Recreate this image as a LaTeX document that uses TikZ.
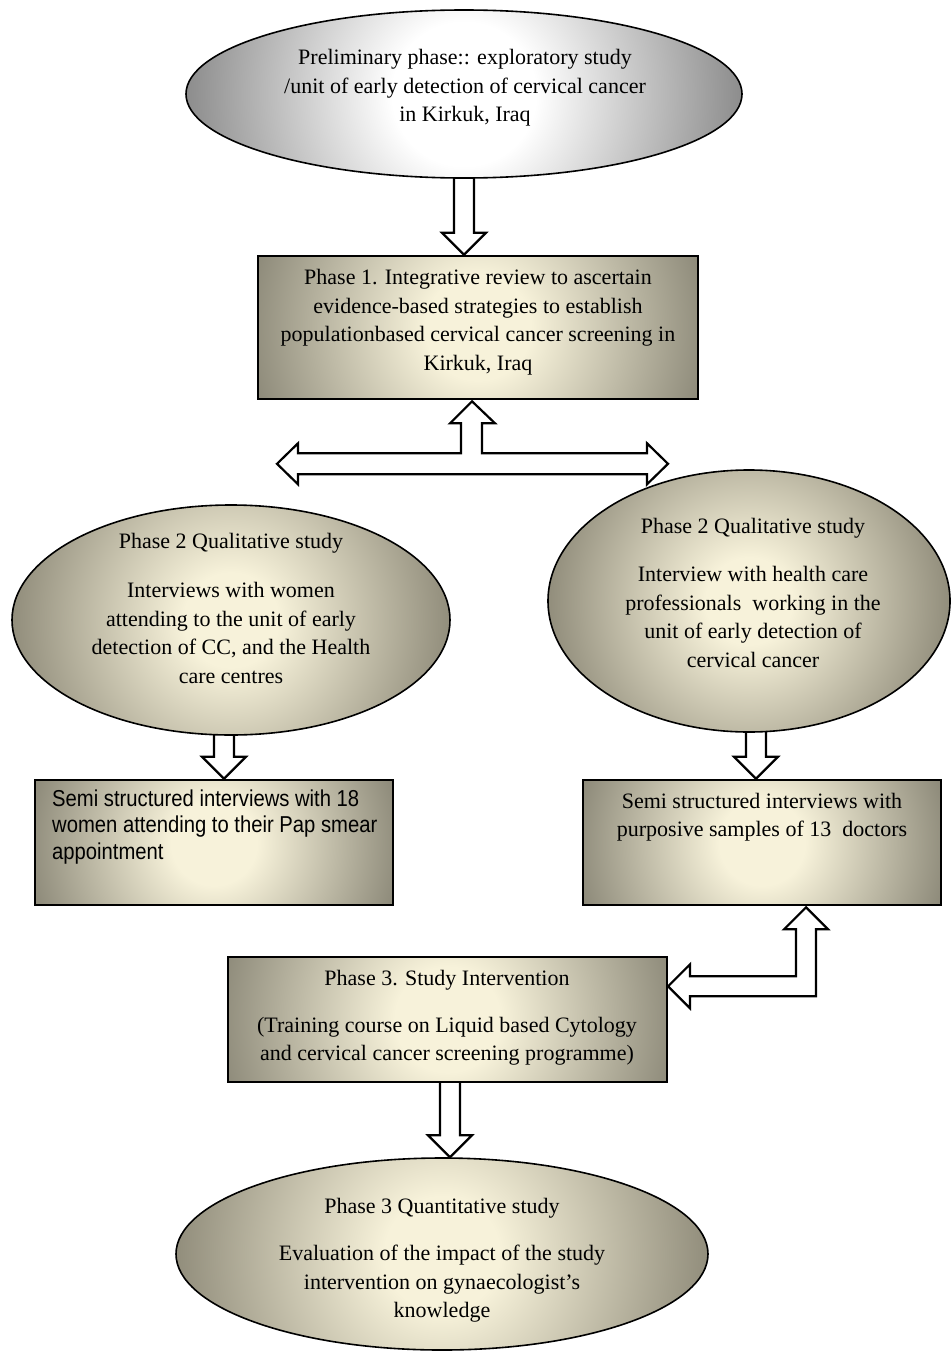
\documentclass[tikz,border=0pt]{standalone}
\usepackage{fontspec}
\setmainfont{Liberation Serif}
\newfontfamily\narrowsans[FakeStretch=0.88]{Liberation Sans}
\usetikzlibrary{shapes.geometric,calc}
\definecolor{creamC}{RGB}{247,242,218}
\definecolor{brownE}{RGB}{122,119,104}
\definecolor{brownL}{RGB}{135,131,114}
\definecolor{greyE}{RGB}{128,128,128}
\pgfdeclareradialshading{boxsh}{\pgfpoint{0bp}{0bp}}{color(0bp)=(creamC); color(5bp)=(creamC); color(25bp)=(brownE); color(50bp)=(brownE)}
\pgfdeclareradialshading{ellsh}{\pgfpoint{0bp}{0bp}}{color(0bp)=(creamC); color(5bp)=(creamC); color(25bp)=(brownL); color(50bp)=(brownL)}
\pgfdeclareradialshading{topsh}{\pgfpoint{0bp}{0bp}}{color(0bp)=(white); color(6bp)=(white); color(25bp)=(greyE); color(50bp)=(greyE)}
\pgfdeclarelayer{bg}
\pgfsetlayers{bg,main}
\newcommand\bdown[2]{\begin{pgfonlayer}{bg}\draw[barrow] let \p1=(#1), \p2=(#2) in
 (\x2-10pt,\y1+6pt) -- (\x2-10pt,\y2+22pt) -- (\x2-22pt,\y2+22pt) -- (\x2,\y2) -- (\x2+22pt,\y2+22pt) -- (\x2+10pt,\y2+22pt) -- (\x2+10pt,\y1+6pt) -- cycle;\end{pgfonlayer}}
\begin{document}
\begin{tikzpicture}[x=1pt,y=-1pt,
  shadein/.style 2 args={path picture={\shade[shading=#1] let \p1=(path picture bounding box.center), \p2=(path picture bounding box.east) in (\p1) circle ({#2*(\x2-\x1)});}},
  boxnode/.style={draw, line width=2.6pt, rectangle, fill=white, shadein={boxsh}{1.2}, inner sep=0},
  ellnode/.style={draw, line width=1.6pt, ellipse, fill=white, shadein={ellsh}{1.08}, inner sep=0},
  topnode/.style={draw, line width=1.6pt, ellipse, fill=white, shadein={topsh}{1.08}, inner sep=0},
  txt/.style={align=center, font=\fontsize{22}{28.5}\selectfont, inner sep=0},
  barrow/.style={draw, line width=2.2pt, fill=white, line join=miter}]
\useasboundingbox (0,0) rectangle (951,1354);
% shapes
\node[topnode, minimum width=556, minimum height=168] (top) at (464,94) {};
\node[boxnode, minimum width=440, minimum height=143] (p1) at (478,327.5) {};
\node[ellnode, minimum width=438, minimum height=230] (l2) at (231,620) {};
\node[ellnode, minimum width=402, minimum height=262] (r2) at (749,601) {};
\node[boxnode, minimum width=358, minimum height=125] (sl) at (214,842.5) {};
\node[boxnode, minimum width=358, minimum height=125] (sr) at (762,842.5) {};
\node[boxnode, minimum width=439, minimum height=125] (p3) at (447.5,1019.5) {};
\node[ellnode, minimum width=532, minimum height=192] (q3) at (442,1254) {};
% texts
\node[txt] (ttop) at (465,88) {Preliminary phase:: exploratory study\\/unit of early detection of cervical cancer\\in Kirkuk, Iraq};
\node[txt] (tp1) at (478,322) {Phase 1. Integrative review to ascertain\\evidence-based strategies to establish\\populationbased cervical cancer screening in\\Kirkuk, Iraq};
\node[txt] (tl2a) at (231,543) {Phase 2 Qualitative study};
\node[txt] (tl2b) at (231,633) {Interviews with women\\attending to the unit of early\\detection of CC, and the Health\\care centres};
\node[txt] (tr2a) at (753,528) {Phase 2 Qualitative study};
\node[txt] (tr2b) at (753,617) {Interview with health care\\professionals\ \ working in the\\unit of early detection of\\cervical cancer};
\node[align=left, anchor=west, inner sep=0, font=\narrowsans\fontsize{23}{26.5}\selectfont] (tsl) at (52,827) {Semi structured interviews with 18\\women attending to their Pap smear\\appointment};
\node[txt] (tsr) at (762,817) {Semi structured interviews with\\purposive samples of 13\ \ doctors};
\node[txt] (tp3a) at (447,980) {Phase 3. Study Intervention};
\node[txt] (tp3b) at (447,1041) {(Training course on Liquid based Cytology\\and cervical cancer screening programme)};
\node[txt] (tq3a) at (442,1208) {Phase 3 Quantitative study};
\node[txt] (tq3b) at (442,1284) {Evaluation of the impact of the study\\intervention on gynaecologist’s\\knowledge};
% block arrows
\bdown{top.south}{$(p1.north)+(-14,0)$}
\bdown{l2.south}{$(sl.north)+(10,0)$}
\bdown{r2.south}{$(sr.north)+(-6,0)$}
\bdown{p3.south}{$(q3.north)+(8,0)$}
\coordinate (tipA) at ($(p1.south)+(-6,1)$);
\draw[barrow] (tipA) -- ++(23,22) -- ++(-13,0) -- ++(0,30) -- ++(165,0) -- ++(0,-10) -- ++(21,20.5) -- ++(-21,20.5) -- ++(0,-10) -- ++(-349,0) -- ++(0,10) -- ++(-21,-20.5) -- ++(21,-20.5) -- ++(0,10) -- ++(163,0) -- ++(0,-30) -- ++(-11,0) -- cycle;
\coordinate (tipB) at ($(sr.south)+(44,1)$);
\draw[barrow] (tipB) -- ++(22,22) -- ++(-12,0) -- ++(0,67) -- ++(-126,0) -- ++(0,12) -- ++(-22,-22) -- ++(22,-22) -- ++(0,12) -- ++(106,0) -- ++(0,-47) -- ++(-12,0) -- cycle;
\end{tikzpicture}
\end{document}
